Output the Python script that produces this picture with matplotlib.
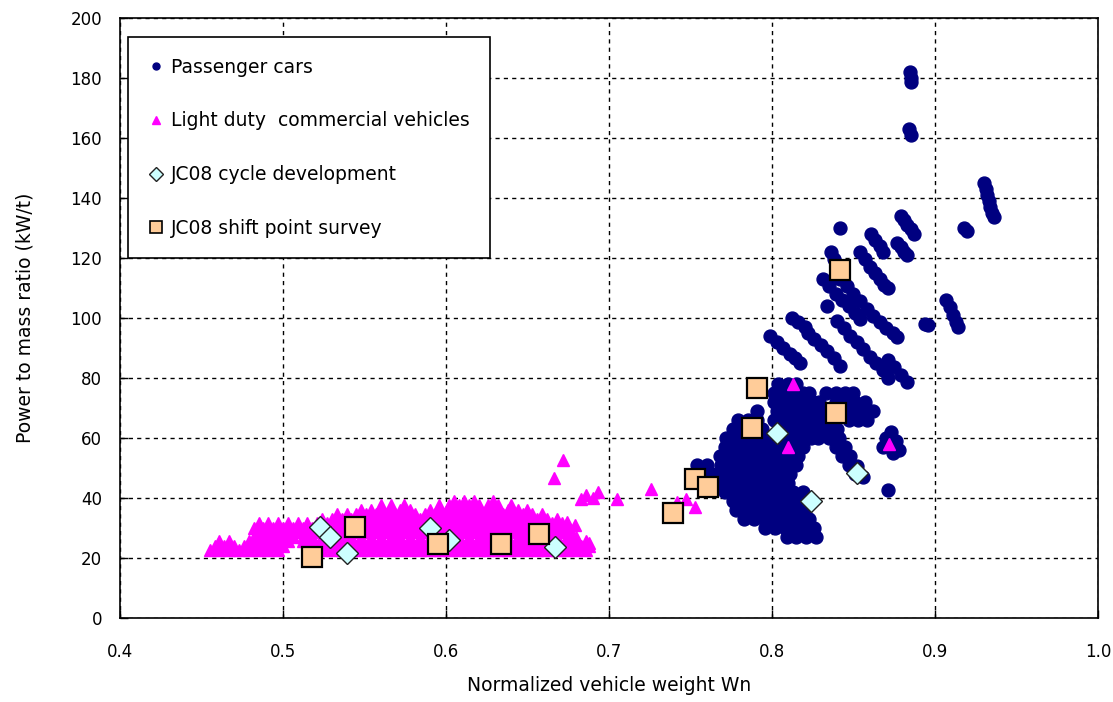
import matplotlib
matplotlib.use('Agg')
import matplotlib.pyplot as plt
from matplotlib.lines import Line2D
from matplotlib.ticker import MultipleLocator, FormatStrFormatter
import numpy as np

# Passenger cars (x = normalized weight, y = kW/t)
pc = [
    # high outliers
    (0.8845, 182), (0.885, 180), (0.8855, 178.5),
    (0.884, 163), (0.8855, 161),
    (0.918, 130), (0.9195, 129), (0.842, 130),
    (0.930, 145), (0.931, 143), (0.932, 141), (0.933, 139), (0.934, 137), (0.935, 135), (0.936, 133.5),
    # upper streaks
    (0.879, 134), (0.881, 132.5), (0.883, 131), (0.885, 129.5), (0.887, 128),
    (0.877, 125), (0.879, 123.5), (0.881, 122), (0.883, 121),
    (0.861, 128), (0.8635, 126), (0.866, 124), (0.868, 122),
    (0.854, 122), (0.857, 119.5), (0.860, 117), (0.863, 115), (0.866, 113), (0.869, 111), (0.871, 110),
    (0.836, 122), (0.838, 119.5), (0.840, 117),
    (0.842, 113), (0.846, 110.5), (0.850, 108), (0.854, 105.5), (0.858, 103), (0.862, 100.5),
    (0.866, 98.5), (0.870, 96.5), (0.874, 95), (0.877, 93.5),
    (0.831, 113), (0.835, 110.5), (0.839, 108), (0.843, 106), (0.847, 104), (0.851, 101.5), (0.854, 99.5),
    (0.834, 104),
    (0.907, 106), (0.909, 103.5), (0.911, 101), (0.913, 98.5), (0.914, 97),
    (0.894, 98), (0.896, 97.5),
    (0.812, 100), (0.816, 98.5), (0.820, 97),
    (0.799, 94), (0.803, 92), (0.807, 90), (0.811, 88), (0.814, 86.5), (0.817, 85),
    (0.822, 95), (0.826, 93), (0.830, 91), (0.834, 89), (0.838, 86.5), (0.842, 84),
    (0.840, 99), (0.844, 96.5), (0.848, 94), (0.852, 92), (0.856, 89.5), (0.860, 87),
    (0.864, 85), (0.868, 82.5), (0.871, 80),
    (0.871, 86), (0.875, 83.5), (0.879, 81), (0.883, 78.5),
    # main cluster
    (0.809, 27), (0.815, 27), (0.821, 27), (0.827, 27),
    (0.796, 30), (0.802, 30), (0.808, 30), (0.814, 30), (0.820, 30), (0.826, 30),
    (0.783, 33), (0.789, 33), (0.795, 33), (0.801, 33), (0.807, 33), (0.813, 33), (0.819, 33), (0.823, 33),
    (0.778, 36), (0.784, 36), (0.790, 36), (0.796, 36), (0.802, 36), (0.808, 36), (0.814, 36), (0.820, 36),
    (0.776, 39), (0.782, 39), (0.788, 39), (0.794, 39), (0.800, 39), (0.806, 39), (0.812, 39), (0.818, 39), (0.824, 39),
    (0.771, 42), (0.777, 42), (0.783, 42), (0.789, 42), (0.795, 42), (0.801, 42), (0.807, 42), (0.813, 42), (0.819, 42),
    (0.762, 45), (0.768, 45), (0.774, 45), (0.780, 45), (0.786, 45), (0.792, 45), (0.798, 45), (0.804, 45), (0.810, 45),
    (0.757, 48), (0.763, 48), (0.769, 48), (0.775, 48), (0.781, 48), (0.787, 48), (0.793, 48), (0.799, 48),
    (0.805, 48), (0.811, 48), (0.851, 48), (0.856, 47),
    (0.754, 51), (0.760, 51), (0.769, 51), (0.775, 51), (0.781, 51), (0.787, 51), (0.793, 51), (0.799, 51),
    (0.805, 51), (0.811, 51), (0.815, 51), (0.847, 51), (0.852, 50.5),
    (0.768, 54), (0.774, 54), (0.780, 54), (0.786, 54), (0.792, 54), (0.798, 54), (0.804, 54), (0.810, 54),
    (0.816, 54), (0.843, 54), (0.848, 54),
    (0.771, 57), (0.777, 57), (0.783, 57), (0.789, 57), (0.795, 57), (0.801, 57), (0.807, 57), (0.813, 57),
    (0.819, 57), (0.839, 57), (0.845, 57),
    (0.772, 60), (0.778, 60), (0.784, 60), (0.790, 60), (0.796, 60), (0.806, 60), (0.812, 60), (0.818, 60),
    (0.824, 60), (0.828, 60), (0.835, 60), (0.841, 60), (0.870, 60), (0.876, 59),
    (0.776, 63), (0.782, 63), (0.788, 63), (0.794, 63), (0.805, 63), (0.811, 63), (0.817, 63), (0.823, 63),
    (0.829, 63), (0.835, 63), (0.840, 63), (0.873, 62),
    (0.779, 66), (0.785, 66), (0.791, 66), (0.801, 66), (0.807, 66), (0.813, 66), (0.819, 66), (0.825, 66),
    (0.831, 66), (0.836, 66), (0.847, 66), (0.853, 66), (0.858, 66),
    (0.791, 69), (0.803, 69), (0.809, 69), (0.815, 69), (0.821, 69), (0.827, 69), (0.832, 69),
    (0.841, 69), (0.847, 69), (0.853, 69), (0.859, 69), (0.862, 69),
    (0.801, 72), (0.807, 72), (0.813, 72), (0.819, 72), (0.825, 72), (0.829, 72),
    (0.839, 72), (0.845, 72), (0.851, 72), (0.857, 72),
    (0.801, 75), (0.807, 75), (0.813, 75), (0.819, 75), (0.823, 75),
    (0.833, 75), (0.839, 75), (0.845, 75), (0.850, 75),
    (0.804, 78), (0.810, 78), (0.815, 78),
    (0.868, 57), (0.878, 56), (0.874, 55), (0.871, 42.5),
]

# Light duty commercial vehicles: the dense band, read row by row (y: x values)
ldcv_rows = [
    (22.5, [0.455, 0.461, 0.467, 0.473, 0.479, 0.485, 0.491, 0.497,
            0.524, 0.530, 0.536, 0.542, 0.548, 0.554, 0.560, 0.566, 0.572, 0.578, 0.584, 0.590, 0.596,
            0.602, 0.608, 0.614, 0.620, 0.626, 0.632, 0.638, 0.644, 0.650, 0.656, 0.662, 0.668, 0.674,
            0.680, 0.686]),
    (24.0, [0.458, 0.464, 0.470, 0.476, 0.482, 0.488, 0.494, 0.500,
            0.521, 0.527, 0.533, 0.539, 0.545, 0.551, 0.557, 0.563, 0.569, 0.575, 0.581, 0.587, 0.593,
            0.599, 0.605, 0.611, 0.617, 0.623, 0.629, 0.635, 0.641, 0.647, 0.653, 0.659, 0.665, 0.671,
            0.677, 0.683, 0.688]),
    (25.5, [0.461, 0.467, 0.479, 0.485, 0.491, 0.497, 0.503,
            0.512, 0.518, 0.524, 0.530, 0.536, 0.542, 0.548, 0.554, 0.560, 0.566, 0.572, 0.578, 0.584,
            0.590, 0.596, 0.602, 0.608, 0.614, 0.620, 0.626, 0.632, 0.638, 0.644, 0.650, 0.656, 0.662,
            0.668, 0.674, 0.680, 0.686]),
    (27.0, [0.482, 0.488, 0.494, 0.500, 0.506, 0.512, 0.518, 0.524, 0.530, 0.536, 0.542, 0.548, 0.554,
            0.560, 0.566, 0.572, 0.578, 0.584, 0.590, 0.596, 0.602, 0.608, 0.614, 0.620, 0.626, 0.632,
            0.638, 0.644, 0.650, 0.656, 0.662, 0.668, 0.674, 0.680]),
    (28.5, [0.485, 0.491, 0.497, 0.503, 0.509, 0.515, 0.521, 0.527, 0.533, 0.539, 0.545, 0.551, 0.557,
            0.563, 0.569, 0.575, 0.581, 0.587, 0.593, 0.599, 0.605, 0.611, 0.617, 0.623, 0.629, 0.635,
            0.641, 0.647, 0.653, 0.659, 0.665, 0.671, 0.677]),
    (30.0, [0.482, 0.488, 0.494, 0.500, 0.506, 0.512, 0.518, 0.524, 0.530, 0.536, 0.542, 0.548, 0.554,
            0.560, 0.566, 0.572, 0.578, 0.584, 0.590, 0.596, 0.602, 0.608, 0.614, 0.620, 0.626, 0.632,
            0.638, 0.644, 0.650, 0.656, 0.662, 0.668, 0.674]),
    (31.5, [0.485, 0.491, 0.497, 0.503, 0.509, 0.515, 0.521, 0.527, 0.533, 0.539, 0.545, 0.551, 0.557,
            0.563, 0.569, 0.575, 0.581, 0.587, 0.593, 0.599, 0.605, 0.611, 0.617, 0.623, 0.629, 0.635,
            0.641, 0.647, 0.653, 0.659, 0.665, 0.671]),
    (33.0, [0.524, 0.530, 0.536, 0.542, 0.548, 0.554, 0.560, 0.566, 0.572, 0.578, 0.584, 0.590, 0.596,
            0.602, 0.608, 0.614, 0.620, 0.626, 0.632, 0.638, 0.644, 0.650, 0.656, 0.662, 0.668]),
    (34.5, [0.533, 0.539, 0.545, 0.551, 0.557, 0.563, 0.569, 0.575, 0.581, 0.587, 0.593, 0.599, 0.605,
            0.611, 0.617, 0.623, 0.629, 0.635, 0.641, 0.647, 0.653, 0.659]),
    (36.0, [0.548, 0.554, 0.560, 0.566, 0.572, 0.578, 0.590, 0.596, 0.602, 0.608, 0.614, 0.620, 0.626,
            0.632, 0.638, 0.644, 0.650]),
    (37.5, [0.560, 0.566, 0.574, 0.596, 0.602, 0.608, 0.614, 0.620, 0.626, 0.632, 0.640]),
    (39.0, [0.605, 0.611, 0.617, 0.629]),
]
# Light duty commercial vehicles: scattered points
ldcv_extra = [
    (0.672, 52.5), (0.666, 46.5), (0.686, 41), (0.683, 39.5), (0.690, 40), (0.693, 42), (0.705, 39.5),
    (0.726, 43), (0.742, 38.5), (0.747, 39.5), (0.753, 37), (0.674, 32), (0.679, 31), (0.683, 24), (0.688, 25),
    (0.813, 78), (0.810, 57), (0.872, 58),
]

# JC08 cycle development
cyc_x = [0.523, 0.529, 0.539, 0.590, 0.602, 0.667, 0.803, 0.852, 0.824]
cyc_y = [30.3, 27.0, 21.7, 30.0, 26.0, 23.7, 61.7, 48.3, 39.0]

# JC08 shift point survey
sps_x = [0.518, 0.544, 0.595, 0.634, 0.657, 0.739, 0.753, 0.761, 0.788, 0.791, 0.839, 0.842]
sps_y = [20.3, 30.3, 24.7, 24.7, 28.0, 35.0, 46.3, 43.7, 63.3, 76.7, 68.3, 116.0]

labels = ['Passenger cars', 'Light duty  commercial vehicles',
          'JC08 cycle development', 'JC08 shift point survey']

navy = '#000080'
magenta = '#FF00FF'
cyan = '#CCFFFF'
peach = '#FFCC99'

pc = np.array(pc)
ldcv = [(x, y) for y, xs in ldcv_rows for x in xs] + ldcv_extra
ldcv = np.array(ldcv)

fig = plt.figure(figsize=(11.13, 7.02), dpi=100)
ax = fig.add_axes([0.1078, 0.1197, 0.8787, 0.8547])

ax.plot(pc[:, 0], pc[:, 1], 'o', ms=9.3, color=navy, mec=navy, zorder=3)
ax.plot(ldcv[:, 0], ldcv[:, 1], '^', ms=8, color=magenta, mec=magenta, zorder=4)
ax.plot(cyc_x, cyc_y, 'D', ms=11.5, color=cyan, mec='#222222', mew=1, zorder=5)
ax.plot(sps_x, sps_y, 's', ms=14, color=peach, mec='black', mew=1.6, zorder=6)

ax.set_xlim(0.4, 1.0)
ax.set_ylim(0, 200)
ax.xaxis.set_major_locator(MultipleLocator(0.1))
ax.yaxis.set_major_locator(MultipleLocator(20))
ax.xaxis.set_major_formatter(FormatStrFormatter('%.1f'))
ax.grid(True, color='black', linestyle=(0, (3, 3)), linewidth=1)
ax.set_axisbelow(True)
ax.tick_params(direction='in', length=6, width=1, labelsize=12)
ax.tick_params(axis='x', pad=18)
ax.tick_params(axis='y', pad=13)
for s in ax.spines.values():
    s.set_linewidth(1.2)

ax.set_xlabel('Normalized vehicle weight Wn', fontsize=13.5, labelpad=11)
ax.set_ylabel('Power to mass ratio (kW/t)', fontsize=13.5, labelpad=26)

handles = [
    Line2D([], [], marker='o', ls='none', ms=5, color=navy),
    Line2D([], [], marker='^', ls='none', ms=6, color=magenta),
    Line2D([], [], marker='D', ls='none', ms=7, color=cyan, mec='#222222', mew=1),
    Line2D([], [], marker='s', ls='none', ms=9, color=peach, mec='black', mew=1.2),
]
leg = ax.legend(handles, labels, loc='upper left', bbox_to_anchor=(0.008, 0.968),
                borderaxespad=0, fancybox=False, framealpha=1, edgecolor='black',
                fontsize=13.5, labelspacing=1.85, handlelength=0.8, handletextpad=0.4,
                borderpad=1.1)
leg.get_frame().set_linewidth(1.2)

plt.savefig('out.png', dpi=100)
